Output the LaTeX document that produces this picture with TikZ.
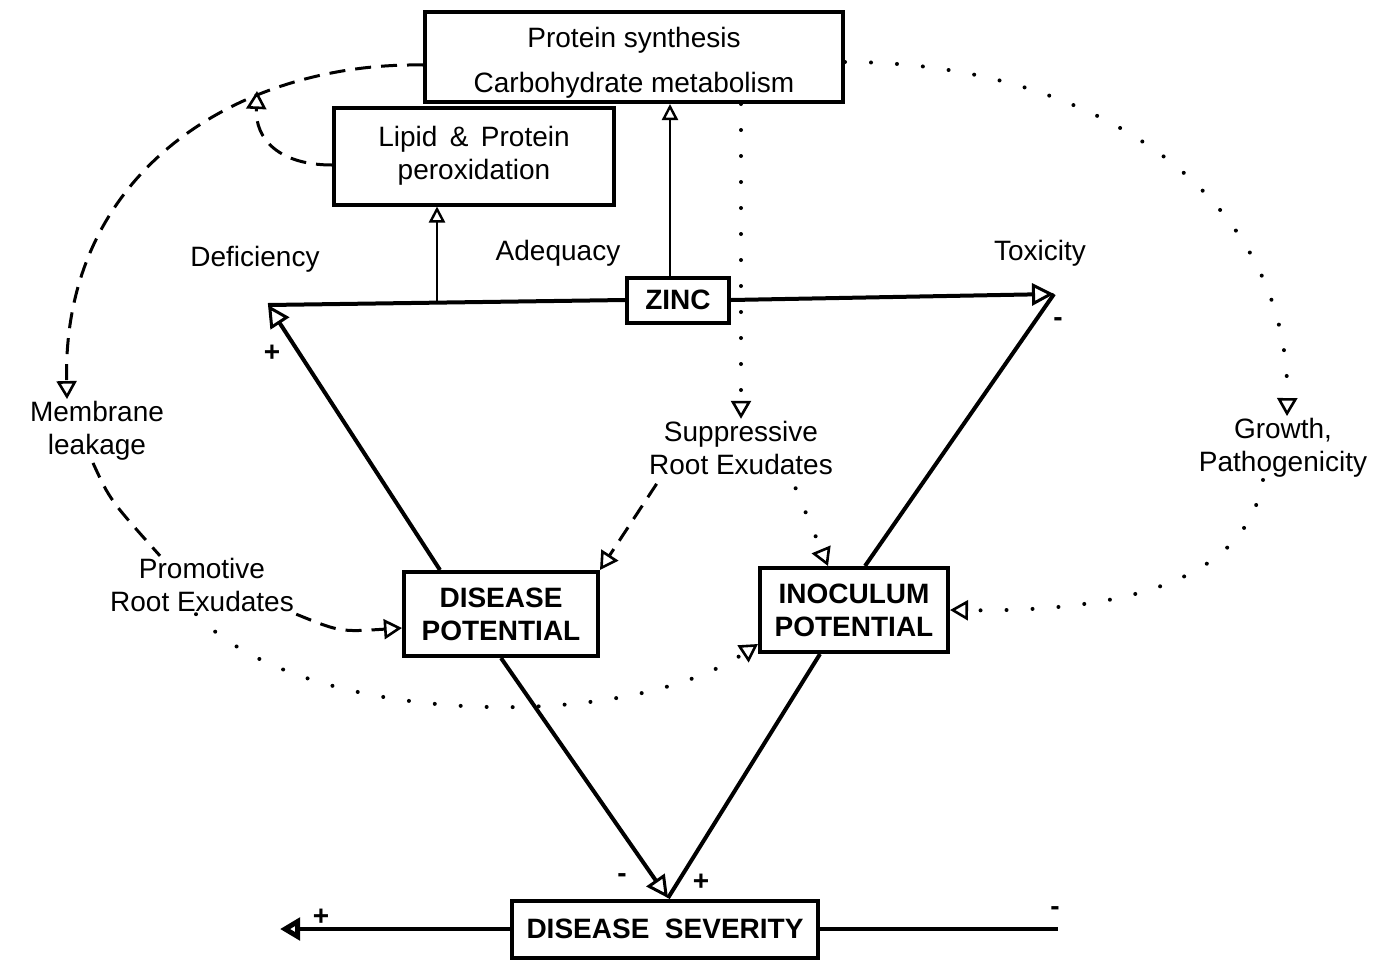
\documentclass[tikz,border=0pt]{standalone}
\usepackage{fontspec}
\setmainfont{Liberation Sans}
\usetikzlibrary{arrows.meta}
\tikzset{
  box/.style={
    rectangle,
    draw,
    line width=2pt,
    align=center,
    inner sep=2pt,
    font=\fontsize{14}{16.5}\selectfont
  },
  capsbox/.style={
    box,
    font=\fontsize{14}{16.5}\selectfont\bfseries
  },
  note/.style={align=center, inner sep=1pt, font=\fontsize{14}{16.5}\selectfont},
  sign/.style={inner sep=0pt, font=\fontsize{14}{16}\selectfont\bfseries},
  mainline/.style={line width=2pt},
  mainarrow/.style={line width=2pt, -{Triangle[open, length=11pt, width=11pt, line width=1.5pt]}},
  heavyarrow/.style={line width=2pt, -{Triangle[open, length=10pt, width=11pt, line width=2.5pt]}},
  thinarrow/.style={line width=1pt, -{Triangle[open, length=8pt, width=8pt, line width=1.2pt]}},
  dashline/.style={line width=1.5pt, dash pattern=on 8pt off 5pt},
  dasharrow/.style={dashline, -{Triangle[open, length=9pt, width=10pt, line width=1.3pt]}},
  dotline/.style={line width=2pt, line cap=round, dash pattern=on 0pt off 13pt},
  dotarrow/.style={dotline, -{Triangle[open, length=9pt, width=10pt, line width=1.3pt]}}
}
\begin{document}
\begin{tikzpicture}[x=0.5pt,y=-0.5pt]
\useasboundingbox (0,0) rectangle (1375,959);
% boxes
\node[box, minimum width=209pt, minimum height=45pt] (metab) at (634,57)
  {\raisebox{-3pt}[\height][\depth]{\begin{tabular}{@{}c@{}}Protein synthesis\\[6pt]Carbohydrate metabolism\end{tabular}}};
\node[box, minimum width=140pt, minimum height=48.5pt] (perox) at (474,156) {Lipid \,\&\, Protein\\peroxidation};
\node[capsbox, minimum width=51pt, minimum height=22.5pt] (zinc) at (678,300) {ZINC};
\node[capsbox, minimum width=97pt, minimum height=42pt] (dispot) at (501,614) {DISEASE\\POTENTIAL};
\node[capsbox, minimum width=94pt, minimum height=42pt] (inocpot) at (854,610) {INOCULUM\\POTENTIAL};
\node[capsbox, minimum width=153pt, minimum height=28.5pt] (severity) at (665,929) {DISEASE \ SEVERITY};
% labels
\node[note] (deficiency) at (255,259) {Deficiency};
\node[note] (adequacy) at (558,253) {Adequacy};
\node[note] (toxicity) at (1040,253) {Toxicity};
\node[note] (membrane) at (97,431) {Membrane\\leakage};
\node[note] (promotive) at (202,585) {Promotive\\Root Exudates};
\node[note] (suppressive) at (741,448) {Suppressive\\Root Exudates};
\node[note] (growth) at (1283,448) {Growth,\\Pathogenicity};
% signs
\node[sign] (plusdef) at (272,353) {+};
\node[sign] (minustox) at (1058,322) {-};
\node[sign] (minusdis) at (622,878) {-};
\node[sign] (plusinoc) at (701,882) {+};
\node[sign] (plusleft) at (321,917) {+};
\node[sign] (minusright) at (1055,911) {-};
% corners
\coordinate (deficorner) at (268,305);
\coordinate (toxcorner) at (1054,294);
\coordinate (adeqfoot) at (437,302);
\coordinate (sevtip) at (668,898);
\coordinate (sevleft) at (280,929);
\coordinate (sevright) at (1058,929);
\coordinate (leakjoin) at (257,91);

% zinc triangle
\draw[mainline] (zinc.west) -- (deficorner);
\draw[mainarrow] (zinc.east) -- (toxcorner);
\draw[mainarrow] ([xshift=-30.5pt]dispot.north) -- (deficorner);
\draw[mainline] ([xshift=5.5pt]inocpot.north) -- (toxcorner);
\draw[thinarrow] (adeqfoot) -- (adeqfoot |- perox.south);
\draw[thinarrow] ([xshift=-4pt]zinc.north) -- ([xshift=-4pt]zinc.north |- metab.south);
\draw[mainarrow] (dispot.south) -- (sevtip);
\draw[mainline] ([xshift=-17pt]inocpot.south) -- (sevtip);
\draw[heavyarrow] (severity.west) -- (sevleft);
\draw[mainline] (severity.east) -- (sevright);

% dashed links
\draw[dasharrow] ([yshift=-4pt]metab.west) .. controls (240,62) and (62,170) .. ([xshift=-15pt]membrane.north);
\draw[dasharrow] ([yshift=-4.5pt]perox.west) .. controls (280,165) and (255,140) .. (leakjoin);
\draw[dashline] ([xshift=-2pt]membrane.south) .. controls (110,500) .. ([xshift=-21pt]promotive.north);
\draw[dasharrow] (promotive.south east) .. controls (340,632) .. ([yshift=-7pt]dispot.west);
\draw[dasharrow, shorten <=4pt] ([xshift=-40pt]suppressive.south) -- (dispot.north east);

% dotted links
\draw[dotarrow] (suppressive.north |- metab.south) -- (suppressive.north);
\draw[dotarrow, shorten <=6pt] ([xshift=25pt]suppressive.south) -- ([xshift=-13pt]inocpot.north);
\draw[dotarrow] ([yshift=-2.5pt]metab.east) .. controls (1100,62) and (1290,200) .. ([xshift=2pt]growth.north);
\draw[dotarrow] ([xshift=-10pt]growth.south) .. controls (1245,590) and (1100,612) .. (inocpot.east);
\draw[dotarrow] ([xshift=-3pt]promotive.south) .. controls (300,725) and (620,735) .. ([yshift=5pt]inocpot.south west);
\end{tikzpicture}
\end{document}
